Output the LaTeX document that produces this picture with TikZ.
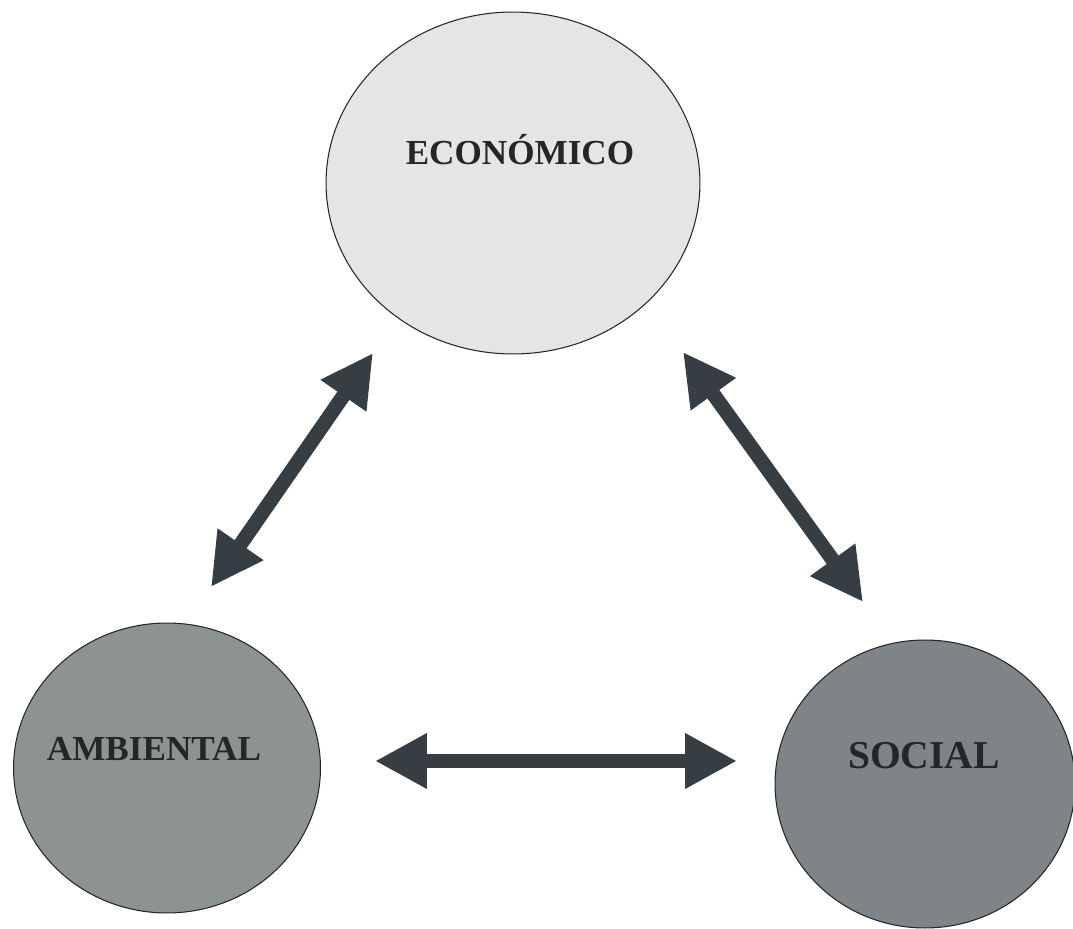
\documentclass[tikz,border=0pt]{standalone}
\usepackage{xcolor}
\usepackage{fontspec}
\setmainfont{Liberation Serif}
\usepackage{tikz}
\usetikzlibrary{shapes.geometric,arrows.meta}

\definecolor{ecofill}{HTML}{E4E5E5}
\definecolor{ambfill}{HTML}{8D9293}
\definecolor{socfill}{HTML}{7E8487}
\definecolor{arrowgray}{HTML}{373E43}

\begin{document}
\begin{tikzpicture}[
    x=0.02cm, y=-0.02cm,
    blob/.style={ellipse, draw=black!85, line width=0.6pt, inner sep=0pt},
    lbl/.style={anchor=base, font=\bfseries\fontsize{20}{24}\selectfont, text=black!85},
    arrow/.style={{Triangle[width=1.04cm,length=1.04cm]}-{Triangle[width=1.04cm,length=1.04cm]}, line width=0.29cm, draw=arrowgray}
]
    \useasboundingbox[fill=white] (0,0) rectangle (1073,929);

    % Top circle
    \node[blob, fill=ecofill, minimum width=7.48cm, minimum height=6.84cm] (eco) at (513,183) {};
    \node[lbl] (ecotext) at (520,165) {ECONÓMICO};

    % Bottom circles
    \node[blob, fill=ambfill, minimum width=6.14cm, minimum height=5.8cm] (amb) at (167,768) {};
    \node[lbl] (ambtext) at (154,760) {AMBIENTAL};

    \node[blob, fill=socfill, minimum width=6.0cm, minimum height=5.76cm] (soc) at (925,784) {};
    \node[lbl, font=\bfseries\fontsize{22.5}{27}\selectfont] (soctext) at (924,768) {SOCIAL};

    % Arrow ends
    \coordinate (ecoL) at (373,353);
    \coordinate (ambT) at (211,587);
    \coordinate (ecoR) at (683,352);
    \coordinate (socT) at (863,602);
    \coordinate (ambR) at (375,761);
    \coordinate (socL) at (737,761);

    \draw[arrow] (ecoL) -- (ambT);
    \draw[arrow] (ecoR) -- (socT);
    \draw[arrow] (ambR) -- (socL);
\end{tikzpicture}
\end{document}
